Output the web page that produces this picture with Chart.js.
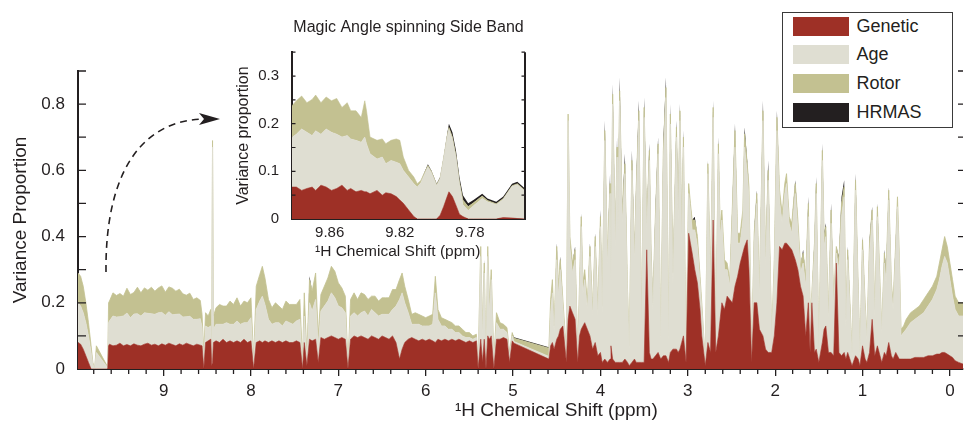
<!DOCTYPE html>
<html>
<head>
<meta charset="utf-8">
<script src="https://cdn.jsdelivr.net/npm/chart.js@4.4.1/dist/chart.umd.min.js"></script>
<style>
  html, body { margin: 0; padding: 0; background: #fff; }
  body { position: relative; width: 964px; height: 424px; overflow: hidden;
         font-family: "Liberation Sans", Arial, sans-serif; color: #231f20; }
  canvas { position: absolute; }
  #main { left: 0; top: 0; }
  #inset { left: 230px; top: 10px; }
  .xtitle { position: absolute; white-space: nowrap; }
  #xtitle { left: 455px; top: 399px; font-size: 19px; line-height: 22px; }
  #ixtitle { left: 315px; top: 242px; font-size: 15.5px; line-height: 18px; }
  #legend { position: absolute; left: 782px; top: 12px; width: 171px; height: 116px;
            box-sizing: border-box; border: 1.5px solid #3a3a3a; background: #fff; }
  #legend .row { position: absolute; left: 9.5px; height: 19px; display: flex; align-items: center; }
  #legend .sw { width: 56px; height: 19px; margin-right: 8px; }
  #legend .lb { font-size: 18px; line-height: 19px; }
</style>
</head>
<body>
<canvas id="main" width="964" height="424"></canvas>
<canvas id="inset" width="348" height="252"></canvas>
<div class="xtitle" id="xtitle">¹H Chemical Shift (ppm)</div>
<div class="xtitle" id="ixtitle">¹H Chemical Shift (ppm)</div>
<div id="legend"></div>
<script>
const SERIES = ['Genetic', 'Age', 'Rotor', 'HRMAS'];
const COLORS = ['#9e3026', '#dfded2', '#c3c191', '#231f20'];
const INK = '#231f20';
const FONT = '"Liberation Sans", Arial, sans-serif';

// axis ticks
const xTicks = [0, 1, 2, 3, 4, 5, 6, 7, 8, 9];
const yTicks = [0, 0.2, 0.4, 0.6, 0.8];
const yMarks = [0.1, 0.2, 0.3, 0.4, 0.5, 0.6, 0.7, 0.8, 0.9];
const insetXTicks = [9.78, 9.82, 9.86];
const insetYTicks = [0, 0.1, 0.2, 0.3];
const insetYMarks = [0.05, 0.1, 0.15, 0.2, 0.25, 0.3, 0.35];

// main spectrum: chemical shift (ppm), variance proportion per factor
const ppm = [
  9.98, 9.95, 9.92, 9.89, 9.86, 9.83, 9.81, 9.79, 9.77, 9.64, 9.63,
  9.62, 9.58, 9.54, 9.50, 9.46, 9.42, 9.38, 9.34, 9.30, 9.26, 9.22, 9.18, 9.14, 9.10,
  9.06, 9.02, 8.98, 8.94, 8.90, 8.86, 8.82, 8.78, 8.74, 8.70, 8.66, 8.62, 8.58,
  8.56, 8.54, 8.52, 8.49, 8.46, 8.45, 8.44, 8.43, 8.40, 8.36,
  8.32, 8.28, 8.24, 8.20, 8.16, 8.12, 8.08, 8.04, 8.00, 7.97,
  7.94, 7.90, 7.87, 7.84, 7.80, 7.76, 7.72, 7.68, 7.64, 7.60,
  7.56, 7.52, 7.48, 7.44, 7.41, 7.39, 7.36, 7.33, 7.30, 7.26,
  7.23, 7.20, 7.16, 7.12, 7.08, 7.04, 7.00, 6.96, 6.92, 6.89,
  6.86, 6.82, 6.78, 6.74, 6.70, 6.66, 6.62, 6.58, 6.54, 6.50,
  6.46, 6.42, 6.38, 6.34, 6.30, 6.27, 6.24, 6.20, 6.16, 6.12,
  6.08, 6.04, 6.00, 5.96, 5.92, 5.89, 5.86, 5.82, 5.78, 5.74,
  5.70, 5.66, 5.62, 5.58, 5.54, 5.50, 5.46, 5.42, 5.40, 5.37,
  5.35, 5.33, 5.31, 5.29, 5.27, 5.25, 5.22, 5.19, 5.15, 5.11,
  5.07, 5.04, 5.01, 4.99, 4.59,
  4.57, 4.55, 4.53, 4.50, 4.48, 4.46, 4.43, 4.39, 4.37, 4.35,
  4.32, 4.29, 4.26, 4.24, 4.22, 4.20, 4.18, 4.15, 4.12, 4.09,
  4.06, 4.03, 4.00, 3.98, 3.95, 3.92, 3.89, 3.88, 3.86, 3.83,
  3.81, 3.80, 3.78, 3.75, 3.72, 3.69, 3.67, 3.64, 3.61, 3.59,
  3.56, 3.53, 3.50, 3.47, 3.44, 3.42, 3.40, 3.37, 3.34, 3.31,
  3.28, 3.25, 3.22, 3.20, 3.17, 3.13, 3.11, 3.09, 3.07, 3.05,
  3.02, 2.99, 2.97, 2.95, 2.92, 2.89, 2.86, 2.84, 2.80, 2.77,
  2.74, 2.71, 2.68, 2.65, 2.63, 2.61, 2.58, 2.55, 2.52, 2.49,
  2.46, 2.43, 2.40, 2.37, 2.35, 2.32, 2.30, 2.27, 2.24, 2.21,
  2.18, 2.14, 2.11, 2.08, 2.04, 2.01, 1.98, 1.95, 1.92, 1.89,
  1.87, 1.84, 1.81, 1.77, 1.74, 1.71, 1.68, 1.65, 1.62, 1.60,
  1.58, 1.55, 1.53, 1.50, 1.46, 1.44, 1.42, 1.39, 1.36, 1.33,
  1.30, 1.27, 1.24, 1.21, 1.19, 1.17, 1.12, 1.08, 1.05, 1.03,
  1.00, 0.97, 0.95, 0.92, 0.89, 0.86, 0.83, 0.80, 0.78, 0.75,
  0.73, 0.70, 0.67, 0.65, 0.62, 0.60, 0.58, 0.56,
  0.53, 0.50, 0.45, 0.40, 0.35, 0.30, 0.25, 0.20, 0.15, 0.12,
  0.09, 0.06, 0.03, 0.00, -0.03, -0.06, -0.10, -0.15
];
const genetic = [
  .08, .075, .06, .04, .02, 0, 0, 0, 0, 0, .07,
  .075, .07, .072, .078, .07, .074, .07, .076, .072, .07, .075, .078, .072, .075,
  .07, .076, .072, .078, .074, .07, .076, .072, .078, .074, .07, .075, .072,
  .07, 0, .08, .085, .09, .01, .02, .08, .085, .08,
  .09, .08, .085, .08, .085, .08, .09, .08, .085, 0,
  .08, .085, .08, .085, .08, .085, .08, .085, .08, .085,
  .08, .08, .085, .08, 0, .08, .01, .09, .085, .09,
  .02, .095, .09, .095, .10, .095, .09, .095, .09, 0,
  .09, .10, .095, .10, .095, .09, .10, .095, .09, .10,
  .095, .09, .10, .08, .03, .06, .08, .09, .095, .09,
  .085, .09, .085, .09, .085, .08, .09, .085, .09, .085,
  .09, .085, .09, .085, .08, .085, .08, .085, 0, .09,
  .02, .09, 0, .10, .09, .10, 0, .09, .09, .095,
  .09, .02, .085, .078, .03,
  .07, .08, .06, .09, .10, .12, .13, .02, .15, .19,
  .17, .15, .02, .10, .12, .13, .14, .12, .10, .06,
  .08, .04, .05, .02, .03, .02, .03, .07, .03, .02,
  .02, .02, .02, .02, .03, .02, .01, .02, .03, .02,
  .02, .02, .02, .36, .05, .03, .03, .04, .05, .03,
  .04, .04, .02, .05, .06, .06, .05, .06, .08, .10,
  .02, .41, .38, .35, .30, .26, .18, .10, .01, .08,
  .05, .45, .05, .10, .15, .20, .18, .22, .21, .20,
  .25, .28, .32, .35, .37, .39, .30, .02, .20, .20,
  .12, .10, .06, .05, .05, .10, .20, .37, .36, .38,
  .38, .37, .36, .33, .30, .25, .22, .10, .20, .05,
  .20, .05, .06, .02, .08, .12, .13, .05, .05, .04,
  .32, .05, .04, .05, .03, .05, .01, .04, .03, .01,
  .07, .03, .02, .05, .15, .04, .07, .04, .02, .05,
  .04, .08, .04, .03, .05, .04, .03, .03,
  .03, .03, .03, .035, .035, .035, .04, .04, .045, .045,
  .05, .05, .045, .04, .035, .025, .02, .015
];
const age = [
  .12, .115, .11, .10, .08, .05, .015, 0, .05, .004, .07,
  .07, .09, .085, .08, .09, .095, .085, .09, .095, .09, .095, .09, .095, .09,
  .10, .095, .09, .095, .09, .095, .09, .085, .08, .085, .08, .075, .08,
  .055, .03, .05, .04, .04, .02, .65, .04, .05, .055,
  .045, .06, .05, .055, .06, .055, .05, .06, .07, .02,
  .10, .12, .14, .11, .07, .05, .06, .055, .05, .06,
  .06, .055, .06, .07, .01, .08, .02, .11, .09, .12,
  .05, .08, .10, .11, .13, .12, .10, .09, .08, .01,
  .07, .07, .065, .07, .08, .07, .08, .075, .07, .065,
  .07, .075, .08, .11, .18, .17, .12, .08, .04, .045,
  .05, .04, .045, .04, .05, .15, .06, .045, .04, .035,
  .03, .025, .02, .015, .015, .01, .01, .01, .01, .25,
  .08, .20, .02, .24, .08, .17, .02, .05, .03, .025,
  .02, .02, .015, .005, .008,
  .10, .15, .05, .24, .12, .18, .06, .02, .60, .18,
  .12, .18, .02, .12, .31, .10, .13, .06, .24, .10,
  .29, .12, .38, .15, .66, .30, .50, .20, .77, .35,
  .62, .40, .79, .42, .56, .20, .05, .58, .30, .50,
  .73, .10, .74, .06, .58, .30, .15, .40, .60, .06,
  .59, .78, .07, .69, .20, .64, .40, .69, .30, .57,
  .02, .12, .10, .07, .12, .11, .08, .08, .01, .51,
  .20, .31, .04, .55, .25, .25, .12, .08, .04, .25,
  .42, .10, .06, .10, .30, .20, .22, .02, .18, .30,
  .10, .65, .25, .52, .04, .20, .52, .14, .08, .15,
  .18, .07, .05, .20, .12, .04, .10, .15, .26, .10,
  .02, .30, .47, .03, .55, .25, .27, .10, .39, .15,
  .03, .25, .42, .47, .10, .28, .03, .50, .20, .03,
  .29, .15, .07, .30, .30, .12, .39, .20, .09, .27,
  .22, .43, .20, .15, .30, .45, .30, .07,
  .08, .09, .11, .115, .125, .135, .15, .17, .195, .225,
  .26, .29, .275, .23, .185, .155, .14, .145
];
const rotor = [
  .09, .09, .08, .06, .04, .02, .005, 0, .02, .002, .06,
  .06, .07, .065, .07, .06, .075, .07, .065, .08, .07, .075, .07, .08, .07,
  .075, .08, .07, .075, .08, .07, .075, .07, .065, .07, .06, .065, .055,
  .04, .02, .04, .035, .05, .01, .02, .04, .05, .06,
  .055, .05, .07, .06, .07, .055, .065, .06, .06, .01,
  .07, .08, .09, .08, .06, .05, .06, .05, .05, .06,
  .055, .06, .05, .06, .01, .07, .01, .07, .06, .08,
  .03, .05, .06, .07, .08, .08, .07, .06, .05, .005,
  .05, .06, .05, .06, .05, .05, .04, .05, .045, .05,
  .05, .05, .06, .05, .06, .06, .05, .04, .03, .035,
  .03, .03, .025, .03, .03, .05, .03, .025, .02, .025,
  .02, .02, .02, .02, .015, .015, .01, .01, .005, .03,
  .02, .03, .01, .03, .03, .03, .01, .03, .02, .015,
  .015, .01, .01, .01, .025,
  .04, .04, .02, .04, .03, .03, .02, .01, .02, .03,
  .03, .03, .01, .03, .03, .03, .03, .02, .03, .02,
  .03, .02, .03, .02, .03, .02, .03, .02, .03, .02,
  .03, .02, .03, .03, .03, .02, .01, .03, .02, .03,
  .03, .02, .03, .02, .03, .02, .02, .03, .03, .01,
  .03, .03, .01, .03, .03, .03, .03, .03, .03, .03,
  .01, .03, .02, .03, .03, .03, .02, .02, 0, .03,
  .02, .03, .01, .03, .03, .03, .03, .02, .02, .04,
  .05, .03, .03, .03, .04, .03, .03, .01, .03, .03,
  .02, .03, .03, .03, .01, .03, .04, .03, .03, .03,
  .03, .02, .03, .03, .03, .02, .03, .03, .04, .02,
  .01, .03, .03, .01, .03, .03, .03, .02, .04, .02,
  .02, .03, .04, .03, .02, .03, .01, .03, .02, .01,
  .03, .02, .01, .03, .03, .02, .03, .02, .01, .03,
  .03, .03, .02, .02, .03, .03, .02, .02,
  .02, .03, .03, .03, .03, .04, .04, .04, .04, .05,
  .05, .06, .05, .05, .05, .04, .04, .04
];
const hrmas = [
  0, 0, 0, 0, 0, 0, 0, 0, 0, 0, 0,
  0, 0, 0, 0, 0, 0, 0, 0, 0, 0, 0, 0, 0, 0,
  0, 0, 0, 0, 0, 0, 0, 0, 0, 0, 0, 0, 0,
  0, 0, 0, 0, 0, 0, 0, 0, 0, 0,
  0, 0, 0, 0, 0, 0, 0, 0, 0, 0,
  0, 0, 0, 0, 0, 0, 0, 0, 0, 0,
  0, 0, 0, 0, 0, 0, 0, .01, 0, 0,
  0, 0, 0, 0, 0, 0, 0, 0, 0, 0,
  0, 0, 0, 0, 0, 0, 0, 0, 0, 0,
  0, 0, 0, 0, 0, 0, 0, 0, 0, 0,
  0, 0, 0, 0, 0, 0, 0, 0, 0, 0,
  0, 0, 0, 0, 0, 0, 0, 0, 0, 0,
  0, .01, 0, 0, 0, 0, 0, 0, 0, 0,
  0, 0, 0, .003, .003,
  0, 0, 0, .01, 0, .01, 0, 0, 0, 0,
  0, .01, 0, 0, .01, 0, 0, 0, .01, 0,
  .01, 0, .02, 0, .03, 0, .03, 0, .03, .01,
  .03, .01, .04, .01, .03, 0, 0, .03, .01, .02,
  .03, 0, .03, .01, .02, .01, .01, .02, .02, 0,
  .03, .03, 0, .03, .01, .02, .02, .02, .01, .02,
  0, 0, 0, 0, .01, 0, 0, 0, 0, .01,
  0, .02, 0, .02, 0, 0, 0, 0, 0, .01,
  .02, 0, 0, 0, .02, .01, 0, 0, .01, .01,
  0, .03, 0, .03, 0, 0, .02, 0, 0, 0,
  0, 0, 0, .01, 0, 0, .01, 0, .02, 0,
  0, .01, .02, 0, .02, .01, .01, 0, .02, 0,
  0, .01, .02, .02, 0, .01, 0, .02, .01, 0,
  .01, 0, 0, .01, .01, 0, .01, 0, 0, .01,
  .01, .01, 0, 0, .01, 0, 0, 0,
  0, 0, 0, 0, 0, 0, 0, 0, 0, 0,
  0, 0, 0, 0, 0, 0, 0, 0
];

// inset: magic angle spinning side band
const insetPpm = [
  9.8815, 9.879, 9.876, 9.873, 9.870, 9.868, 9.865, 9.862, 9.859, 9.856,
  9.853, 9.850, 9.848, 9.845, 9.842, 9.840, 9.839, 9.837, 9.833, 9.830,
  9.828, 9.825, 9.822, 9.820, 9.818, 9.815, 9.812, 9.810, 9.808, 9.804,
  9.802, 9.799, 9.797, 9.795, 9.793, 9.792, 9.790, 9.788, 9.786, 9.784,
  9.781, 9.778, 9.773, 9.770, 9.765, 9.761, 9.756, 9.753, 9.7486
];
const insetGenetic = [
  .067, .067, .06, .064, .067, .06, .071, .067, .06, .064,
  .071, .06, .064, .057, .06, .057, .057, .053, .06, .05,
  .055, .053, .047, .04, .033, .019, .005, 0, 0, 0,
  0, 0, .008, .026, .047, .057, .047, .029, .01, .005,
  0, 0, 0, 0, 0, .003, .002, .001, 0
];
const insetAge = [
  .1045, .111, .129, .118, .108, .125, .107, .122, .122, .114,
  .101, .115, .104, .108, .101, .115, .101, .084, .066, .08,
  .061, .07, .072, .076, .069, .069, .069, .067, .076, .109,
  .097, .07, .076, .10, .124, .131, .12, .10, .063, .025,
  .018, .028, .043, .036, .03, .038, .066, .071, .058
];
const insetRotor = [
  .066, .07, .069, .062, .076, .075, .066, .067, .066, .075,
  .062, .069, .059, .062, .052, .076, .069, .035, .039, .038,
  .042, .042, .049, .049, .028, .014, .014, .007, .005, .003,
  .003, .002, .002, .002, .003, .004, .005, .005, .005, .01,
  .008, .006, .005, .003, .002, .002, .002, .002, .002
];
const insetHrmas = [
  0, 0, 0, 0, 0, 0, 0, 0, 0, 0,
  0, 0, 0, 0, 0, 0, 0, 0, 0, 0,
  0, 0, 0, 0, 0, 0, 0, 0, 0, .003,
  .002, .002, .002, .002, .004, .008, .01, .01, .01, .01,
  .007, .006, .005, .004, .004, .004, .004, .004, .004
];

[genetic, age, rotor, hrmas].forEach((a, i) => {
  if (a.length !== ppm.length) throw new Error(SERIES[i] + ' length ' + a.length + ' vs ' + ppm.length);
});
[insetGenetic, insetAge, insetRotor, insetHrmas].forEach((a, i) => {
  if (a.length !== insetPpm.length) throw new Error('inset ' + SERIES[i] + ' length ' + a.length);
});

Chart.defaults.font.family = FONT;
Chart.defaults.color = INK;

function stackedSets(xs, layers, widths) {
  return layers.map((vals, i) => ({
    label: SERIES[i],
    data: xs.map((x, j) => ({x: x, y: vals[j]})),
    backgroundColor: COLORS[i],
    borderColor: COLORS[i],
    borderWidth: widths[i],
    borderJoinStyle: 'round',
    fill: i === 0 ? 'origin' : '-1',
    pointRadius: 0,
    tension: 0
  }));
}

// inward tick marks on the value axes, minor ticks under the ppm axis
const tickMarks = {
  id: 'tickMarks',
  afterDraw(chart, args, o) {
    const {ctx, chartArea: a} = chart;
    const x = chart.scales.x, y = chart.scales.y;
    ctx.save();
    ctx.strokeStyle = INK;
    ctx.lineWidth = o.width;
    ctx.beginPath();
    o.yMarks.forEach(v => {
      const py = y.getPixelForValue(v);
      if (o.left) { ctx.moveTo(a.left, py); ctx.lineTo(a.left + o.left, py); }
      if (o.right) { ctx.moveTo(a.right, py); ctx.lineTo(a.right - o.right, py); }
    });
    (o.xMarks || []).forEach(v => {
      const px = x.getPixelForValue(v);
      ctx.moveTo(px, a.bottom); ctx.lineTo(px, a.bottom + o.down);
    });
    ctx.stroke();
    if (o.frameRight) {
      ctx.lineWidth = o.frameRight;
      ctx.beginPath();
      ctx.moveTo(a.right, a.top); ctx.lineTo(a.right, a.bottom + 1);
      ctx.stroke();
    }
    ctx.restore();
  }
};

// dashed arrow pointing from the water region to the inset
const arrow = {
  id: 'arrow',
  afterDraw(chart) {
    const ctx = chart.ctx;
    ctx.save();
    ctx.strokeStyle = INK;
    ctx.lineWidth = 1.6;
    ctx.setLineDash([7, 5]);
    ctx.beginPath();
    ctx.moveTo(106, 272);
    ctx.bezierCurveTo(105, 178, 138, 121, 203, 119);
    ctx.stroke();
    ctx.setLineDash([]);
    ctx.fillStyle = INK;
    ctx.beginPath();
    ctx.moveTo(220, 119); ctx.lineTo(199, 113); ctx.lineTo(204, 119); ctx.lineTo(199, 125);
    ctx.closePath();
    ctx.fill();
    ctx.restore();
  }
};

const xMinor = [];
for (let k = 49; k > 0; k--) if (k % 5) xMinor.push(k / 5);

new Chart(document.getElementById('main'), {
  type: 'line',
  data: {datasets: stackedSets(ppm, [genetic, age, rotor, hrmas], [0.6, 0.8, 0.8, 0])},
  options: {
    responsive: false,
    animation: false,
    events: [],
    layout: {padding: {top: 71, right: 1, left: 0, bottom: 0}},
    plugins: {
      legend: {display: false},
      tooltip: {enabled: false},
      tickMarks: {width: 1.3, yMarks: yMarks, left: 8, right: 5, xMarks: xMinor, down: 5}
    },
    scales: {
      x: {
        type: 'linear', reverse: true, min: -0.15, max: 9.98,
        afterBuildTicks: s => { s.ticks = xTicks.map(v => ({value: v})); },
        afterFit: s => { s.height = 55; },
        grid: {display: true, drawOnChartArea: false, drawTicks: true, tickLength: 7, color: INK, lineWidth: 1.3},
        border: {display: true, color: INK, width: 2},
        ticks: {font: {size: 17}, color: INK, padding: 5, maxRotation: 0, autoSkip: false,
                callback: v => String(v)}
      },
      y: {
        stacked: true, min: 0, max: 0.9,
        afterBuildTicks: s => { s.ticks = yTicks.map(v => ({value: v})); },
        afterFit: s => { s.width = 78; },
        grid: {display: false, drawTicks: false},
        border: {display: true, color: INK, width: 2},
        ticks: {font: {size: 17}, color: INK, padding: 13,
                callback: v => v === 0 ? '0' : v.toFixed(1)},
        title: {display: true, text: 'Variance Proportion', color: INK,
                font: {size: 19}, padding: {top: 9, bottom: 0}}
      }
    }
  },
  plugins: [tickMarks, arrow]
});

new Chart(document.getElementById('inset'), {
  type: 'line',
  data: {datasets: stackedSets(insetPpm, [insetGenetic, insetAge, insetRotor, insetHrmas], [0.6, 0.6, 0.6, 0])},
  options: {
    responsive: false,
    animation: false,
    events: [],
    layout: {padding: {top: 0, right: 53, left: 0, bottom: 0}},
    plugins: {
      legend: {display: false},
      tooltip: {enabled: false},
      title: {display: true, text: 'Magic Angle spinning Side Band', color: INK, fullSize: false,
              font: {size: 16, weight: 'normal'}, padding: {top: 8, bottom: 15}},
      tickMarks: {width: 1.2, yMarks: insetYMarks, left: 3.5, right: 3.5, frameRight: 2}
    },
    scales: {
      x: {
        type: 'linear', reverse: true, min: 9.7486, max: 9.8815,
        afterBuildTicks: s => { s.ticks = insetXTicks.map(v => ({value: v})); },
        afterFit: s => { s.height = 43; },
        grid: {display: false, drawTicks: false},
        border: {display: true, color: INK, width: 2},
        ticks: {font: {size: 15}, color: INK, padding: 5, maxRotation: 0, autoSkip: false,
                callback: v => v.toFixed(2)}
      },
      y: {
        stacked: true, min: 0, max: 0.35,
        afterBuildTicks: s => { s.ticks = insetYTicks.map(v => ({value: v})); },
        afterFit: s => { s.width = 62; },
        grid: {display: false, drawTicks: false},
        border: {display: true, color: INK, width: 2},
        ticks: {font: {size: 15}, color: INK, padding: 13,
                callback: v => v === 0 ? '0' : v.toFixed(1)},
        title: {display: true, text: 'Variance proportion', color: INK,
                font: {size: 16}, padding: {top: 4, bottom: 0}}
      }
    }
  },
  plugins: [tickMarks]
});

const legend = document.getElementById('legend');
SERIES.forEach((name, i) => {
  const row = document.createElement('div');
  row.className = 'row';
  row.style.top = (3.5 + i * 28.7) + 'px';
  row.innerHTML = '<span class="sw" style="background:' + COLORS[i] + '"></span><span class="lb">' + name + '</span>';
  legend.appendChild(row);
});
</script>
</body>
</html>
